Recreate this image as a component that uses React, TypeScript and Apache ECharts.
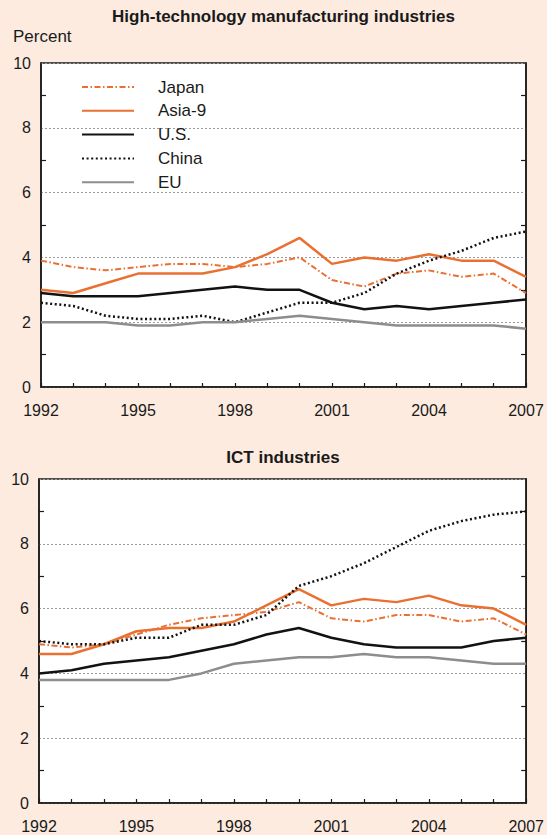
import React, { useEffect, useRef } from "react";
import * as echarts from "echarts";

const years = ["1992", "1993", "1994", "1995", "1996", "1997", "1998", "1999", "2000", "2001", "2002", "2003", "2004", "2005", "2006", "2007"];
const seriesNames = ["Japan", "Asia-9", "U.S.", "China", "EU"];

// High-technology manufacturing industries (percent)
const hiJapan = [3.9, 3.7, 3.6, 3.7, 3.8, 3.8, 3.7, 3.8, 4.0, 3.3, 3.1, 3.5, 3.6, 3.4, 3.5, 2.9];
const hiAsia9 = [3.0, 2.9, 3.2, 3.5, 3.5, 3.5, 3.7, 4.1, 4.6, 3.8, 4.0, 3.9, 4.1, 3.9, 3.9, 3.4];
const hiUS = [2.9, 2.8, 2.8, 2.8, 2.9, 3.0, 3.1, 3.0, 3.0, 2.6, 2.4, 2.5, 2.4, 2.5, 2.6, 2.7];
const hiChina = [2.6, 2.5, 2.2, 2.1, 2.1, 2.2, 2.0, 2.3, 2.6, 2.6, 2.9, 3.5, 3.9, 4.2, 4.6, 4.8];
const hiEU = [2.0, 2.0, 2.0, 1.9, 1.9, 2.0, 2.0, 2.1, 2.2, 2.1, 2.0, 1.9, 1.9, 1.9, 1.9, 1.8];

// ICT industries (percent)
const ictJapan = [4.9, 4.8, 4.9, 5.2, 5.5, 5.7, 5.8, 5.9, 6.2, 5.7, 5.6, 5.8, 5.8, 5.6, 5.7, 5.2];
const ictAsia9 = [4.6, 4.6, 4.9, 5.3, 5.4, 5.4, 5.6, 6.1, 6.6, 6.1, 6.3, 6.2, 6.4, 6.1, 6.0, 5.5];
const ictUS = [4.0, 4.1, 4.3, 4.4, 4.5, 4.7, 4.9, 5.2, 5.4, 5.1, 4.9, 4.8, 4.8, 4.8, 5.0, 5.1];
const ictChina = [5.0, 4.9, 4.9, 5.1, 5.1, 5.5, 5.5, 5.8, 6.7, 7.0, 7.4, 7.9, 8.4, 8.7, 8.9, 9.0];
const ictEU = [3.8, 3.8, 3.8, 3.8, 3.8, 4.0, 4.3, 4.4, 4.5, 4.5, 4.6, 4.5, 4.5, 4.4, 4.3, 4.3];

const yTicks = { min: 0, max: 10, interval: 2 };

const ORANGE = "#ea7031";
const BLACK = "#121212";
const GRAY = "#8d8d8d";
const BG = "#fdebdf";
const INK = "#1a1a1a";
const FONT = "'Liberation Sans', Arial, Helvetica, sans-serif";

const styles: Record<string, any> = {
  Japan: { color: ORANGE, width: 2, type: [6, 2.5, 1.5, 2.5] },
  "Asia-9": { color: ORANGE, width: 2.5, type: "solid" },
  "U.S.": { color: BLACK, width: 2.5, type: "solid" },
  China: { color: BLACK, width: 2.5, type: [2, 2.6] },
  EU: { color: GRAY, width: 2.5, type: "solid" },
};

export default function App() {
  const ref = useRef<HTMLDivElement>(null);

  useEffect(() => {
    const chart = echarts.init(ref.current!, null, { renderer: "svg" });

    const axisLineStyle = { color: INK, width: 1.5 };

    const mkX = (gi: number) => ({
      type: "category",
      gridIndex: gi,
      data: years,
      boundaryGap: false,
      axisLine: { show: true, onZero: false, lineStyle: axisLineStyle },
      axisTick: { show: true, inside: true, interval: 0, length: 4, lineStyle: { color: INK, width: 1.2 } },
      axisLabel: { interval: 2, margin: 15, color: INK, fontSize: 16, fontFamily: FONT },
      splitLine: { show: false },
    });

    const mkY = (gi: number, pos: string) => ({
      type: "value",
      gridIndex: gi,
      position: pos,
      min: yTicks.min,
      max: yTicks.max,
      interval: yTicks.interval,
      axisLine: { show: true, onZero: false, lineStyle: axisLineStyle },
      axisTick: { show: false, inside: true },
      minorTick: { show: true, splitNumber: 2, length: 5, lineStyle: { color: INK, width: 1.2 } },
      minorSplitLine: { show: false },
      axisLabel: { show: pos === "left", margin: 10, color: INK, fontSize: 16, fontFamily: FONT },
      splitLine: { show: pos === "left", lineStyle: { color: "#9c9c9c", type: [2, 2], width: 1 } },
    });

    const top = [hiJapan, hiAsia9, hiUS, hiChina, hiEU];
    const bottom = [ictJapan, ictAsia9, ictUS, ictChina, ictEU];

    const mkSeries = (arrs: number[][], xi: number, yi: number) =>
      arrs.map((d, i) => ({
        name: seriesNames[i],
        type: "line",
        xAxisIndex: xi,
        yAxisIndex: yi,
        data: d,
        symbol: "none",
        showSymbol: false,
        lineStyle: styles[seriesNames[i]],
        itemStyle: { color: styles[seriesNames[i]].color },
        z: 3,
      }));

    chart.setOption({
      animation: false,
      backgroundColor: BG,
      grid: [
        { left: 41, top: 63, width: 485, height: 324, show: true, backgroundColor: "#ffffff", borderColor: INK, borderWidth: 1.5 },
        { left: 39, top: 479, width: 488, height: 324, show: true, backgroundColor: "#ffffff", borderColor: INK, borderWidth: 1.5 },
      ],
      xAxis: [mkX(0), mkX(1)],
      yAxis: [mkY(0, "left"), mkY(0, "right"), mkY(1, "left"), mkY(1, "right")],
      legend: {
        data: seriesNames,
        orient: "vertical",
        left: 81,
        top: 78.5,
        padding: 0,
        itemWidth: 52,
        itemHeight: 17,
        itemGap: 6.8,
        selectedMode: false,
        itemStyle: { opacity: 0, color: "transparent", borderWidth: 0 },
        textStyle: { fontSize: 17, fontFamily: FONT, color: INK, lineHeight: 17, padding: [0, 0, 0, 19] },
      },
      graphic: [
        {
          type: "text",
          x: 283.5,
          y: 16.5,
          style: { text: "High-technology manufacturing industries", align: "center", verticalAlign: "middle", fontSize: 17, fontWeight: "bold", fontFamily: FONT, fill: INK },
        },
        {
          type: "text",
          x: 13,
          y: 36,
          style: { text: "Percent", align: "left", verticalAlign: "middle", fontSize: 17, fontFamily: FONT, fill: INK },
        },
        {
          type: "text",
          x: 283,
          y: 457.5,
          style: { text: "ICT industries", align: "center", verticalAlign: "middle", fontSize: 17, fontWeight: "bold", fontFamily: FONT, fill: INK },
        },
      ],
      series: [...mkSeries(top, 0, 0), ...mkSeries(bottom, 1, 2)],
    });

    return () => chart.dispose();
  }, []);

  return (
    <div
      ref={ref}
      style={{ position: "absolute", left: 0, top: 0, width: 547, height: 835, background: BG }}
    />
  );
}
